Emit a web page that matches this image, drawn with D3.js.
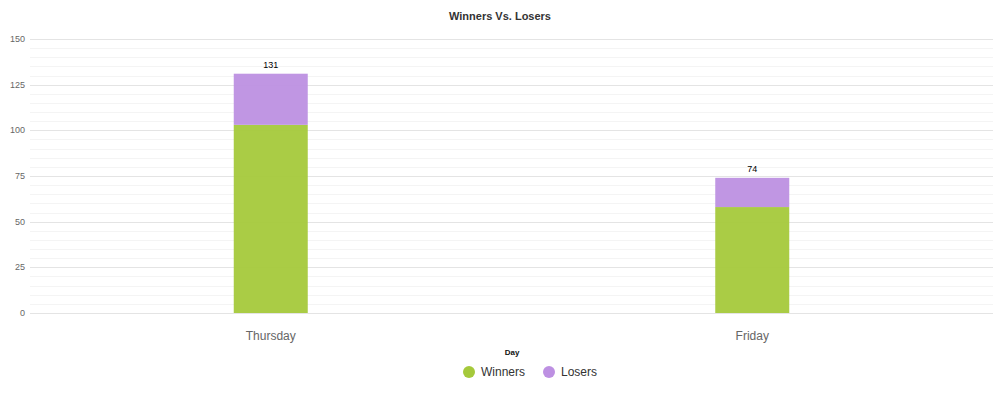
<!DOCTYPE html>
<html>
<head>
<meta charset="utf-8">
<script src="https://cdn.jsdelivr.net/npm/d3@7"></script>
<style>
  body { margin: 0; background: #fff; font-family: Arial, "Liberation Sans", sans-serif; }
</style>
</head>
<body>
<div id="chart"></div>
<script>
// data
const days = ["Thursday", "Friday"];
const winners = [103, 58];
const losers = [28, 16];
const seriesNames = ["Winners", "Losers"];
const seriesColors = ["#a5c93b", "#bd90e2"];
const yTicks = [0, 25, 50, 75, 100, 125, 150];

const width = 1000, height = 395;
const margin = { top: 39, right: 7, bottom: 82, left: 30 };
const innerW = width - margin.left - margin.right;
const innerH = height - margin.top - margin.bottom;

const svg = d3.select("#chart").append("svg")
  .attr("width", width).attr("height", height);

const g = svg.append("g")
  .attr("transform", "translate(" + margin.left + "," + margin.top + ")");

const x = d3.scaleBand().domain(days).range([0, innerW]);
const y = d3.scaleLinear().domain([0, 150]).range([innerH, 0]);

// minor gridlines every 5
g.append("g").selectAll("line")
  .data(d3.range(0, 151, 5).filter(v => v % 25 != 0))
  .enter().append("line")
  .attr("x1", 0).attr("x2", innerW)
  .attr("y1", d => Math.round(y(d)) + 0.5).attr("y2", d => Math.round(y(d)) + 0.5)
  .attr("stroke", "#f4f4f4");

// major gridlines
g.append("g").selectAll("line")
  .data(yTicks)
  .enter().append("line")
  .attr("x1", 0).attr("x2", innerW)
  .attr("y1", d => Math.round(y(d)) + 0.5).attr("y2", d => Math.round(y(d)) + 0.5)
  .attr("stroke", "#e4e4e4");

// y tick labels
g.append("g").selectAll("text")
  .data(yTicks)
  .enter().append("text")
  .attr("x", -5).attr("y", d => y(d))
  .attr("dy", "0.35em")
  .attr("text-anchor", "end")
  .attr("fill", "#666")
  .style("font-size", "9px")
  .text(d => d);

// stacked bars
const data = days.map((d, i) => ({ day: d, Winners: winners[i], Losers: losers[i] }));
const stacked = d3.stack().keys(seriesNames)(data);
const barW = 74;

g.append("g").selectAll("g")
  .data(stacked)
  .enter().append("g")
  .attr("fill", (d, i) => seriesColors[i])
  .attr("fill-opacity", 0.95)
  .selectAll("rect")
  .data(d => d)
  .enter().append("rect")
  .attr("x", d => x(d.data.day) + x.bandwidth() / 2 - barW / 2)
  .attr("width", barW)
  .attr("y", d => y(d[1]))
  .attr("height", d => y(d[0]) - y(d[1]));

// total labels
g.append("g").selectAll("text")
  .data(data)
  .enter().append("text")
  .attr("x", d => x(d.day) + x.bandwidth() / 2)
  .attr("y", d => y(d.Winners + d.Losers) - 6)
  .attr("text-anchor", "middle")
  .attr("fill", "#000")
  .style("font-size", "9px")
  .text(d => d.Winners + d.Losers);

// x labels
g.append("g").selectAll("text")
  .data(days)
  .enter().append("text")
  .attr("x", d => x(d) + x.bandwidth() / 2)
  .attr("y", innerH + 27)
  .attr("text-anchor", "middle")
  .attr("fill", "#666")
  .style("font-size", "12px")
  .text(d => d);

// title
svg.append("text")
  .attr("x", width / 2).attr("y", 20)
  .attr("text-anchor", "middle")
  .style("font-size", "11px").style("font-weight", "bold")
  .attr("fill", "#333")
  .text("Winners Vs. Losers");

// axis title
svg.append("text")
  .attr("x", 512).attr("y", 355)
  .attr("text-anchor", "middle")
  .style("font-size", "8px").style("font-weight", "bold")
  .attr("fill", "#111")
  .text("Day");

// legend
const legendX = [469, 549];
const legend = svg.append("g").selectAll("g")
  .data(seriesNames)
  .enter().append("g")
  .attr("transform", (d, i) => "translate(" + legendX[i] + ",372)");
legend.append("circle").attr("r", 6).attr("fill", (d, i) => seriesColors[i]);
legend.append("text")
  .attr("x", 12).attr("dy", "0.35em")
  .style("font-size", "12px").attr("fill", "#333")
  .text(d => d);
</script>
</body>
</html>
